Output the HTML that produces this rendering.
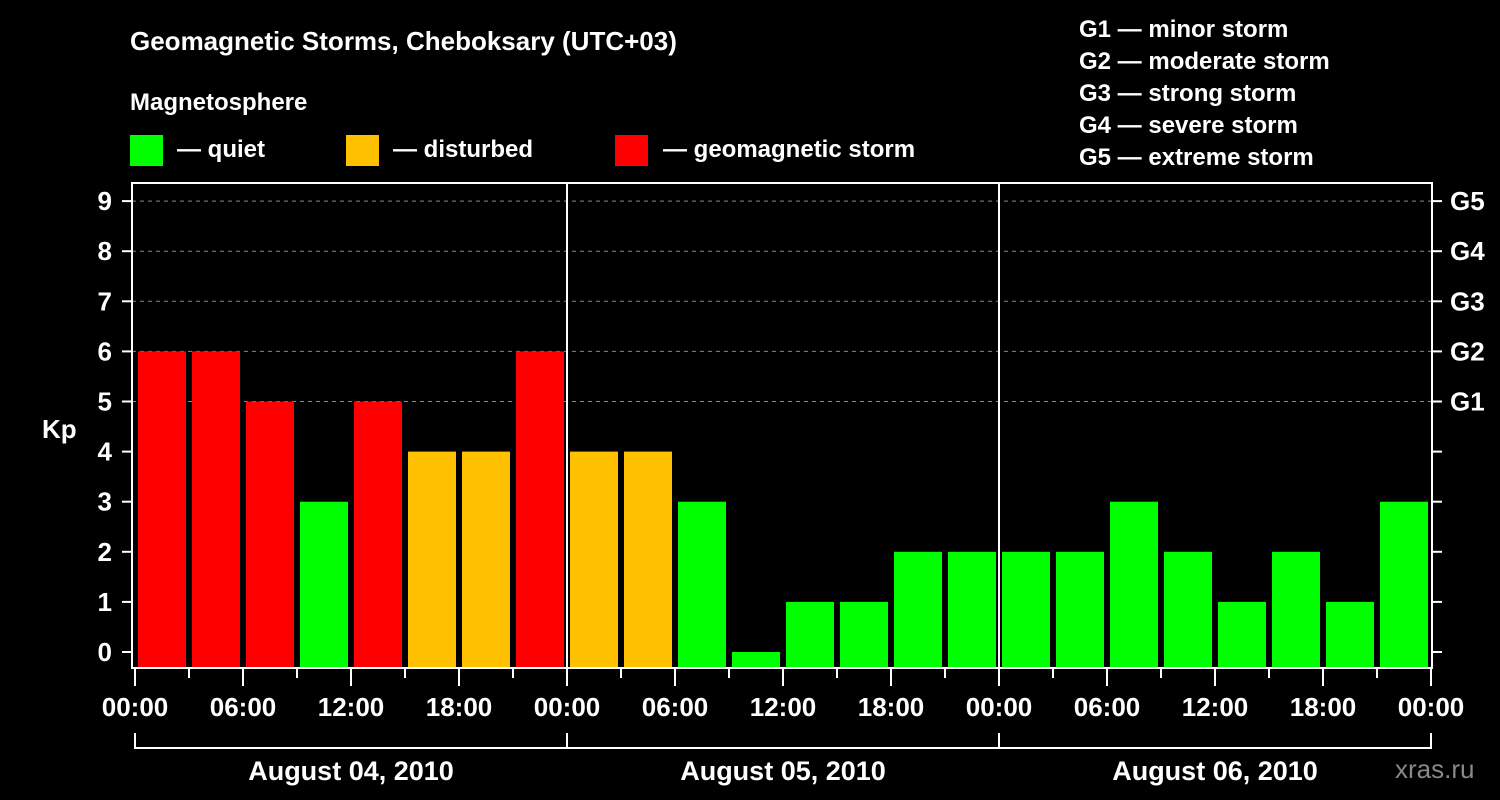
<!DOCTYPE html>
<html><head><meta charset="utf-8"><style>
body{margin:0;background:#000;}
svg{display:block;font-family:"Liberation Sans",Arial,sans-serif;font-weight:bold;}
</style></head><body>
<svg id="c" width="1500" height="800" viewBox="0 0 1500 800">
<rect width="1500" height="800" fill="#000"/>
<text x="130" y="50" fill="#fff" font-size="26">Geomagnetic Storms, Cheboksary (UTC+03)</text>
<text x="130" y="110" fill="#fff" font-size="24">Magnetosphere</text>
<g><rect x="130" y="135" width="33" height="31" fill="#00ff00"/><text x="177" y="157" fill="#fff" font-size="24">— quiet</text></g>
<g><rect x="346" y="135" width="33" height="31" fill="#ffc000"/><text x="393" y="157" fill="#fff" font-size="24">— disturbed</text></g>
<g><rect x="615" y="135" width="33" height="31" fill="#ff0000"/><text x="663" y="157" fill="#fff" font-size="24">— geomagnetic storm</text></g>
<g fill="#fff" font-size="24">
<text x="1079" y="37">G1 — minor storm</text><text x="1079" y="69">G2 — moderate storm</text><text x="1079" y="101">G3 — strong storm</text><text x="1079" y="133">G4 — severe storm</text><text x="1079" y="165">G5 — extreme storm</text>
</g>
<text x="42" y="438" fill="#fff" font-size="26">Kp</text>
<text x="1395" y="778" fill="#888" font-size="26" font-weight="normal">xras.ru</text>
<g id="plot"></g>
</svg>
<script>
const kpValues=[6,6,5,3,5,4,4,6, 4,4,3,0,1,1,2,2, 2,2,3,2,1,2,1,3];
const yTicks=[0,1,2,3,4,5,6,7,8,9];
const gLabels=["G1","G2","G3","G4","G5"];
const gLevels=[5,6,7,8,9];
const timeLabels=["00:00","06:00","12:00","18:00","00:00","06:00","12:00","18:00","00:00","06:00","12:00","18:00","00:00"];
const dayLabels=["August 04, 2010","August 05, 2010","August 06, 2010"];
const NS="http://www.w3.org/2000/svg";
const L=132,R=1432,T=183,B=668;
const x0=135,pxH=18;
const X=h=>x0+h*pxH;
const Y=v=>652-v*50.1;
const g=document.getElementById('plot');
function mk(t,a,p){const e=document.createElementNS(NS,t);for(const k in a)e.setAttribute(k,a[k]);(p||g).appendChild(e);return e;}
// grid
gLevels.forEach(v=>{const e=mk('line',{x1:L,x2:R,y1:Y(v),y2:Y(v),stroke:'#888','stroke-dasharray':'4,4','stroke-width':1});

});
// bars
kpValues.forEach((v,i)=>{const col=v>=5?'#ff0000':v>=4?'#ffc000':'#00ff00';
const y=Y(v);const e=mk('rect',{x:X(i*3)+3,y:y,width:48,height:B-y,fill:col});

});
// day separators
[1,2].forEach(d=>{const e=mk('line',{x1:X(d*24),x2:X(d*24),y1:T,y2:B,stroke:'#fff','stroke-width':2});

});
// frame
const fr=mk('rect',{x:L,y:T,width:R-L,height:B-T,fill:'none',stroke:'#fff','stroke-width':2});


// y ticks
yTicks.forEach(v=>{mk('line',{x1:122,x2:L,y1:Y(v),y2:Y(v),stroke:'#fff','stroke-width':2});
mk('line',{x1:R,x2:1442,y1:Y(v),y2:Y(v),stroke:'#fff','stroke-width':2});
const t=mk('text',{x:112,y:Y(v)+9,fill:'#fff','font-size':26,'text-anchor':'end'});t.textContent=v;

});
gLabels.forEach((s,i)=>{const t=mk('text',{x:1450,y:Y(gLevels[i])+9,fill:'#fff','font-size':26});t.textContent=s;

});
// x ticks
for(let h=0;h<=72;h+=3){const major=h%6===0;mk('line',{x1:X(h),x2:X(h),y1:B,y2:major?686:678,stroke:'#fff','stroke-width':2});}
timeLabels.forEach((s,i)=>{const t=mk('text',{x:X(i*6),y:716,fill:'#fff','font-size':26,'text-anchor':'middle'});t.textContent=s;

});
// day brackets
mk('polyline',{points:`${X(0)},733 ${X(0)},748 ${X(72)},748 ${X(72)},733`,fill:'none',stroke:'#fff','stroke-width':2});
[1,2].forEach(d=>mk('line',{x1:X(d*24),x2:X(d*24),y1:733,y2:748,stroke:'#fff','stroke-width':2}));
dayLabels.forEach((s,i)=>{const t=mk('text',{x:X(i*24+12),y:780,fill:'#fff','font-size':27,'text-anchor':'middle'});t.textContent=s;

});
</script>
</body></html>
